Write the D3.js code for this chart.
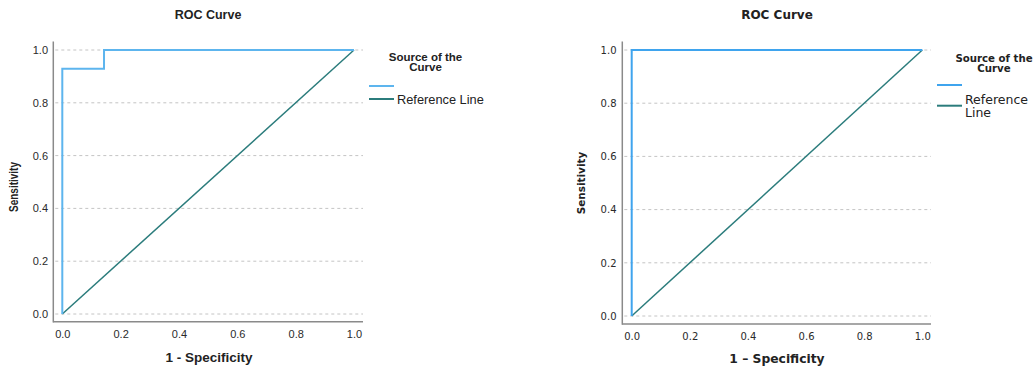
<!DOCTYPE html>
<html>
<head>
<meta charset="utf-8">
<script src="https://cdn.jsdelivr.net/npm/d3@7"></script>
<style>
  html, body { margin: 0; padding: 0; background: #fff; }
  svg { display: block; }
</style>
</head>
<body>
<svg id="chart" width="1034" height="369"></svg>
<script>
// ROC curve points (1 - specificity, sensitivity) for each model
const rocLeftFpr  = [0, 0, 0.143, 0.143, 1];
const rocLeftTpr  = [0, 0.929, 0.929, 1, 1];
const rocRightFpr = [0, 0, 1];
const rocRightTpr = [0, 1, 1];
// Chance diagonal
const refFpr = [0, 1];
const refTpr = [0, 1];
// Axis ticks
const tickValues = [0, 0.2, 0.4, 0.6, 0.8, 1.0];
const legendTitle = ["Source of the", "Curve"];

const svg = d3.select("#chart");

const panels = [
  {
    font: "'Liberation Sans', Arial, sans-serif",
    fpr: rocLeftFpr, tpr: rocLeftTpr,
    x0: 62.3, x1: 354, y0: 314, y1: 50,
    axisX: 53.3, axisY: 321.7, right: 363, top: 41.5,
    curveColor: "#5db5ee", refColor: "#2b7c7c",
    title: { x: 208, y: 19, size: 12.5 },
    xLabel: { text: "1 - Specificity", x: 209, y: 362, size: 13.5 },
    yLabel: { x: 18, y: 187, size: 12.5, stretch: 0.8 },
    tickSize: 11, xTickY: 334, yTickX: 48,
    legend: { titleX: 425.5, titleY: [61, 71], titleSize: 11.5,
              lineX0: 369, lineX1: 394, lineY: [86, 99],
              labels: [["Reference Line"]], labelX: 397, labelY: [104], labelSize: 12.8, lineH: 0 }
  },
  {
    font: "'DejaVu Sans', Verdana, sans-serif",
    fpr: rocRightFpr, tpr: rocRightTpr,
    x0: 631.7, x1: 922.3, y0: 316, y1: 50,
    axisX: 622.3, axisY: 324, right: 931, top: 41.5,
    curveColor: "#3fa4ee", refColor: "#2b7c7c",
    title: { x: 777, y: 19, size: 12 },
    xLabel: { text: "1 \u2013 Specificity", x: 777, y: 363, size: 12.3 },
    yLabel: { x: 585, y: 183, size: 11, stretch: 0.95 },
    tickSize: 10, xTickY: 336, yTickX: 616.5,
    legend: { titleX: 994, titleY: [61.5, 71.5], titleSize: 10.2,
              lineX0: 937, lineX1: 962, lineY: [85, 105.7],
              labels: [["Reference", "Line"]], labelX: 965, labelY: [104], labelSize: 12.5, lineH: 13 }
  }
];

panels.forEach(p => {
  const g = svg.append("g").style("font-family", p.font);
  const x = d3.scaleLinear().domain([0, 1]).range([p.x0, p.x1]);
  const y = d3.scaleLinear().domain([0, 1]).range([p.y0, p.y1]);

  // dashed horizontal gridlines
  g.selectAll("line.grid").data(tickValues).join("line")
    .attr("class", "grid")
    .attr("x1", p.axisX + 2).attr("x2", p.right)
    .attr("y1", d => y(d)).attr("y2", d => y(d))
    .attr("stroke", "#c4c4c4").attr("stroke-width", 1)
    .attr("stroke-dasharray", "3,3");

  // tick labels from d3 axes (tick marks hidden, frame drawn separately)
  const xAxis = d3.axisBottom(x).tickValues(tickValues).tickFormat(d3.format(".1f")).tickSize(0).tickPadding(0);
  const xg = g.append("g").attr("transform", `translate(0,${p.xTickY})`).call(xAxis)
    .attr("font-family", null).attr("font-size", null);
  xg.select(".domain").remove();
  xg.selectAll("text").attr("dy", "0.35em").attr("y", 0)
    .style("font-family", p.font).style("font-size", p.tickSize + "px").attr("fill", "#2a2a2a");

  const yAxis = d3.axisLeft(y).tickValues(tickValues).tickFormat(d3.format(".1f")).tickSize(0).tickPadding(0);
  const yg = g.append("g").attr("transform", `translate(${p.yTickX},0)`).call(yAxis)
    .attr("font-family", null).attr("font-size", null);
  yg.select(".domain").remove();
  yg.selectAll("text").attr("x", 0)
    .style("font-family", p.font).style("font-size", p.tickSize + "px").attr("fill", "#2a2a2a");

  // axis frame lines
  g.append("line").attr("x1", p.axisX).attr("x2", p.axisX).attr("y1", p.top).attr("y2", p.axisY + 0.75)
    .attr("stroke", "#8a8a8a").attr("stroke-width", 1.5);
  g.append("line").attr("x1", p.axisX).attr("x2", p.right).attr("y1", p.axisY).attr("y2", p.axisY)
    .attr("stroke", "#8a8a8a").attr("stroke-width", 1.5);

  const line = d3.line().x(d => x(d[0])).y(d => y(d[1]));

  // reference diagonal
  g.append("path").datum(d3.zip(refFpr, refTpr)).attr("d", line)
    .attr("fill", "none").attr("stroke", p.refColor).attr("stroke-width", 1.5);

  // ROC curve
  g.append("path").datum(d3.zip(p.fpr, p.tpr)).attr("d", line)
    .attr("fill", "none").attr("stroke", p.curveColor).attr("stroke-width", 2);

  // titles
  g.append("text").attr("x", p.title.x).attr("y", p.title.y).attr("text-anchor", "middle")
    .style("font-size", p.title.size + "px").style("font-weight", "bold").attr("fill", "#222")
    .text("ROC Curve");
  g.append("text").attr("x", p.xLabel.x).attr("y", p.xLabel.y).attr("text-anchor", "middle")
    .style("font-size", p.xLabel.size + "px").style("font-weight", "bold").attr("fill", "#222")
    .text(p.xLabel.text);
  g.append("text")
    .attr("transform", `translate(${p.yLabel.x},${p.yLabel.y}) rotate(-90) scale(${p.yLabel.stretch},1)`)
    .attr("text-anchor", "middle")
    .style("font-size", p.yLabel.size + "px").style("font-weight", "bold").attr("fill", "#222")
    .text("Sensitivity");

  // legend
  const L = p.legend;
  legendTitle.forEach((t, i) => {
    g.append("text").attr("x", L.titleX).attr("y", L.titleY[i]).attr("text-anchor", "middle")
      .style("font-size", L.titleSize + "px").style("font-weight", "bold").attr("fill", "#222")
      .text(t);
  });
  [p.curveColor, p.refColor].forEach((c, i) => {
    g.append("line").attr("x1", L.lineX0).attr("x2", L.lineX1)
      .attr("y1", L.lineY[i]).attr("y2", L.lineY[i])
      .attr("stroke", c).attr("stroke-width", 2);
  });
  L.labels.forEach((lines, i) => {
    lines.forEach((t, j) => {
      g.append("text").attr("x", L.labelX).attr("y", L.labelY[i] + j * L.lineH)
        .style("font-size", L.labelSize + "px").attr("fill", "#222")
        .text(t);
    });
  });
});
</script>
</body>
</html>
